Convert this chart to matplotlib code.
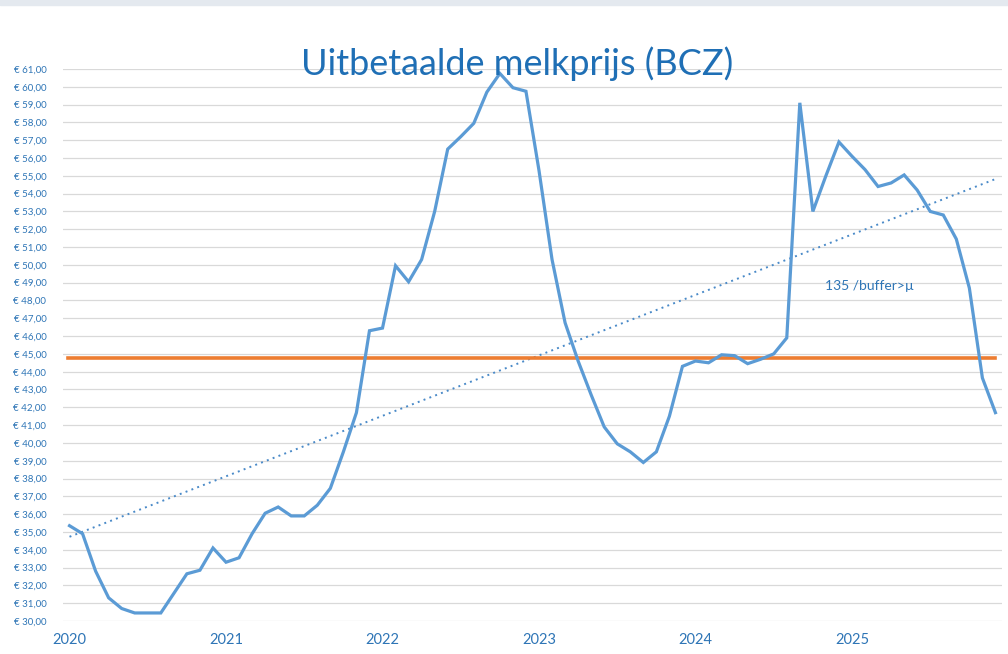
import numpy as np
import matplotlib
matplotlib.use('Agg')
import matplotlib.pyplot as plt
import matplotlib.patches as mpatches

plt.rcParams['font.family'] = ['Lato', 'DejaVu Sans']

# uitbetaalde melkprijs per maand (euro per 100 kg)
p2020 = [35.35, 34.9, 32.8, 31.3, 30.7, 30.45, 30.45, 30.45, 31.55, 32.65, 32.85, 34.1]
p2021 = [33.3, 33.55, 34.9, 36.05, 36.4, 35.9, 35.9, 36.5, 37.45, 39.5, 41.7, 46.3]
p2022 = [46.45, 49.95, 49.05, 50.3, 53.0, 56.5, 57.2, 57.95, 59.7, 60.75, 59.95, 59.75]
p2023 = [55.3, 50.3, 46.75, 44.6, 42.7, 40.9, 39.95, 39.5, 38.9, 39.5, 41.5, 44.3]
p2024 = [44.6, 44.5, 44.95, 44.9, 44.45, 44.7, 45.0, 45.9, 59.1, 53.0, 55.0, 56.9]
p2025 = [56.1, 55.35, 54.4, 54.6, 55.05, 54.2, 53.0, 52.8, 51.45, 48.7, 43.65, 41.7]
years = ['2020', '2021', '2022', '2023', '2024', '2025']
note = '135 /buffer>\u00b5'

prices = np.array(p2020 + p2021 + p2022 + p2023 + p2024 + p2025)
months = np.arange(len(prices))

blue_line = '#5B9BD5'
orange = '#ED7D31'
text_blue = '#2E75B6'

fig = plt.figure(figsize=(10.08, 6.54), dpi=100)
fig.patches.append(mpatches.Rectangle((0, 0.993), 1, 0.007, transform=fig.transFigure,
                                      color='#E4E9EF', zorder=0))
ax = fig.add_axes([0.0625, 0.0505, 0.9315, 0.844])

# lineaire trendlijn en gemiddelde
coef = np.polyfit(months, prices, 1)
trend = np.polyval(coef, months)
mean = prices.mean()

ax.plot(months, trend, color='#4A8AC8', lw=1.4, ls=(0, (1, 2.2)), zorder=2)
ax.plot([months[0] - 0.15, months[-1]], [mean, mean], color=orange, lw=2.6, zorder=3)
ax.plot(months, prices, color=blue_line, lw=2.3, zorder=4, solid_joinstyle='miter')

ax.set_xlim(-0.5, len(prices) - 0.5)
ax.set_ylim(30, 61)
ax.set_yticks(np.arange(30, 62, 1))
ax.set_yticklabels(['\u20ac %d,00' % v for v in range(30, 62)], fontsize=7, color=text_blue)
ax.set_xticks(np.arange(0, len(prices), 12))
ax.set_xticklabels(years, fontsize=10.5, color=text_blue)
ax.tick_params(axis='y', length=0, pad=12)
ax.tick_params(axis='x', length=0, pad=9)
ax.grid(axis='y', color='#D9D9D9', lw=0.9)
ax.set_axisbelow(True)
for s in ax.spines.values():
    s.set_visible(False)

ax.text(57.9, 48.8, note, fontsize=10, color=text_blue, ha='left', va='center')

fig.text(0.513, 0.902, 'Uitbetaalde melkprijs (BCZ)', fontsize=26, color='#1F6FB5',
         ha='center', va='center')

fig.savefig('out.png', dpi=100)
